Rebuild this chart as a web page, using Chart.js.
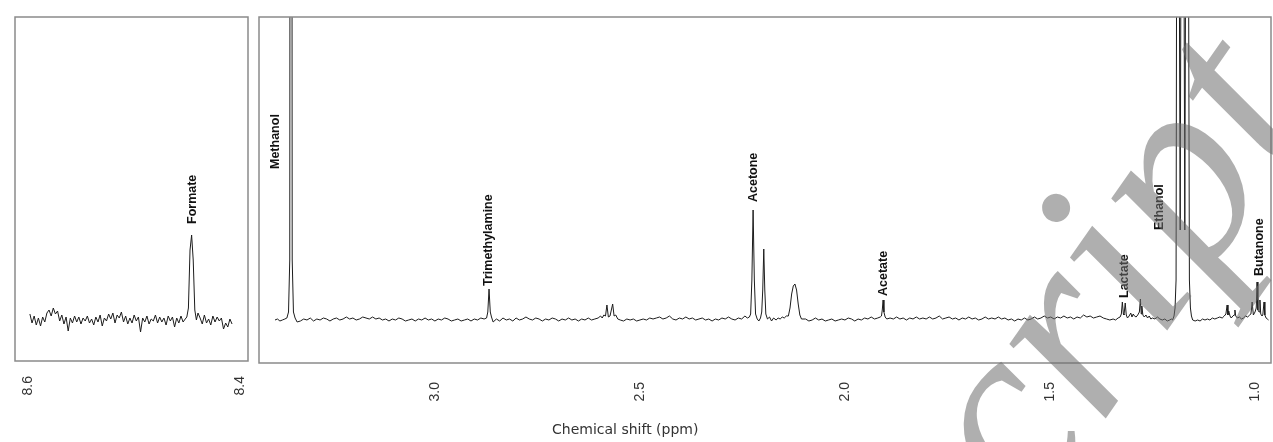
<!DOCTYPE html>
<html><head><meta charset="utf-8">
<script src="https://cdn.jsdelivr.net/npm/chart.js@4.4.1/dist/chart.umd.min.js"></script>
<style>
html,body{margin:0;padding:0;background:#fff;width:1273px;height:442px;overflow:hidden;}
#wrapL{position:absolute;left:0;top:0;width:252px;height:442px;}
#wrapM{position:absolute;left:252px;top:0;width:1021px;height:442px;}
#xtitle{position:absolute;left:552px;top:421px;font:14px 'DejaVu Sans';color:#333;white-space:nowrap;line-height:16px;}
</style></head><body>
<div id="wrapL"><canvas id="cL" width="252" height="442"></canvas></div>
<div id="wrapM"><canvas id="cM" width="1021" height="442"></canvas></div>
<div id="xtitle">Chemical shift (ppm)</div>
<script>
// ---- data (chemical shift in ppm, intensity in arbitrary units, baseline = 0) ----
const leftTicks = [8.4, 8.6];
const mainTicks = [1.0, 1.5, 2.0, 2.5, 3.0];
const axisTitle = 'Chemical shift (ppm)';

const formateSpectrum = [
[8.598,6],[8.596,-3],[8.594,4],[8.592,-5],[8.590,2],[8.588,-6],[8.586,3],[8.584,-2],[8.582,7],[8.580,10],
[8.578,4],[8.576,12],[8.574,6],[8.572,9],[8.570,-1],[8.568,5],[8.566,-4],[8.564,3],[8.562,-11],[8.560,2],
[8.558,-3],[8.556,4],[8.554,-2],[8.552,3],[8.550,-4],[8.548,2],[8.546,-1],[8.544,4],[8.542,-3],[8.540,1],
[8.538,-5],[8.536,3],[8.534,-2],[8.532,5],[8.530,-6],[8.528,2],[8.526,-1],[8.524,6],[8.522,1],[8.520,7],
[8.518,-3],[8.516,5],[8.514,2],[8.512,8],[8.510,-2],[8.508,4],[8.506,-4],[8.504,2],[8.502,-3],[8.500,5],
[8.498,-1],[8.496,3],[8.494,-12],[8.492,2],[8.490,-2],[8.488,4],[8.486,-4],[8.484,1],[8.482,-1],[8.480,5],
[8.478,-3],[8.476,3],[8.474,-2],[8.472,2],[8.470,-5],[8.468,4],[8.466,-1],[8.464,3],[8.462,-7],[8.460,2],
[8.458,-3],[8.456,4],[8.454,-2],[8.452,1],
[8.4505,3],[8.449,12],[8.4475,70],[8.446,85],[8.4445,60],[8.443,10],[8.4415,0],[8.440,7],
[8.438,2],[8.436,-4],[8.434,5],[8.432,-3],[8.430,1],[8.428,-5],[8.426,4],[8.424,-2],[8.422,3],[8.420,-1],
[8.418,2],[8.416,-9],[8.414,-3],[8.412,-7],[8.410,1],[8.408,-4]
];

const mainSpectrum = [
[3.390,0],[3.384,1],[3.378,-1],[3.372,0],[3.366,1],
[3.361,2],[3.357,8],[3.354,60],[3.351,2000],[3.348,60],[3.345,8],[3.341,2],[3.336,-2],
[3.328,-1],[3.320,1],[3.312,0],[3.304,2],[3.296,-1],[3.288,1],[3.280,0],[3.272,2],[3.264,1],[3.256,-1],
[3.248,1],[3.240,2],[3.232,0],[3.224,1],[3.216,3],[3.208,1],[3.200,2],[3.192,0],[3.184,1],[3.176,3],
[3.168,2],[3.160,1],[3.152,3],[3.144,1],[3.136,2],[3.128,0],[3.120,1],[3.112,-1],[3.104,1],[3.096,0],
[3.088,2],[3.080,1],[3.072,-1],[3.064,0],[3.056,1],[3.048,-1],[3.040,1],[3.032,0],[3.024,2],[3.016,0],
[3.008,1],[3.000,-1],[2.992,1],[2.984,0],[2.976,2],[2.968,1],[2.960,-1],[2.952,0],[2.944,1],[2.936,-1],
[2.928,0],[2.920,1],[2.912,-1],[2.904,1],[2.896,0],[2.888,2],[2.880,1],
[2.874,2],[2.871,8],[2.868,31],[2.865,8],[2.862,3],[2.858,-2],
[2.850,1],[2.842,-1],[2.834,2],[2.826,0],[2.818,1],[2.810,-1],[2.802,2],[2.794,0],[2.786,1],[2.778,3],
[2.770,1],[2.762,0],[2.754,2],[2.746,1],[2.738,-1],[2.730,1],[2.722,0],[2.714,2],[2.706,1],[2.698,-1],
[2.690,1],[2.682,0],[2.674,2],[2.666,0],[2.658,1],[2.650,-1],[2.642,1],[2.634,0],[2.626,2],[2.618,0],
[2.610,1],[2.602,2],[2.596,4],
[2.592,2],[2.588,5],[2.584,4],[2.5805,15],[2.577,3],[2.573,4],[2.5665,16],[2.563,4],[2.559,5],[2.554,1],
[2.548,0],[2.540,-1],[2.532,1],[2.524,0],[2.516,1],[2.508,-1],[2.500,0],[2.492,1],[2.484,0],[2.476,2],
[2.468,1],[2.460,2],[2.452,3],[2.444,1],[2.436,2],[2.428,4],[2.420,1],[2.412,0],[2.404,2],[2.396,1],
[2.388,3],[2.380,1],[2.372,2],[2.364,0],[2.356,1],[2.348,2],[2.340,0],[2.332,1],[2.324,-1],[2.316,1],
[2.308,0],[2.300,2],[2.292,1],[2.284,3],[2.276,1],[2.268,0],[2.260,2],[2.252,1],[2.244,4],[2.238,2],
[2.233,3],
[2.230,6],[2.227,40],[2.224,110],[2.221,40],[2.218,6],[2.214,1],[2.210,-1],[2.206,2],
[2.203,8],[2.2005,30],[2.198,71],[2.1955,30],[2.193,6],[2.189,1],[2.184,3],[2.179,-1],[2.174,2],
[2.168,0],[2.163,2],[2.158,1],[2.153,3],[2.148,2],[2.143,4],
[2.138,4],[2.134,12],[2.130,26],[2.126,34],[2.122,36],[2.118,30],[2.114,16],[2.110,5],[2.106,1],
[2.096,1],[2.088,-1],[2.080,0],[2.072,2],[2.064,0],[2.056,1],[2.048,-1],[2.040,0],[2.032,1],[2.024,-1],
[2.016,0],[2.008,1],[2.000,0],[1.992,2],[1.984,1],[1.976,-1],[1.968,1],[1.960,0],[1.952,2],[1.944,1],
[1.936,3],[1.928,1],[1.920,2],[1.914,3],
[1.911,4],[1.909,10],[1.907,20],[1.905,8],[1.902,3],[1.898,1],
[1.890,2],[1.882,1],[1.874,3],[1.866,1],[1.858,2],[1.850,0],[1.842,2],[1.834,1],[1.826,3],[1.818,1],
[1.810,2],[1.802,1],[1.794,3],[1.786,1],[1.778,2],[1.770,4],[1.762,1],[1.754,2],[1.746,3],[1.738,1],
[1.730,2],[1.722,0],[1.714,2],[1.706,1],[1.698,3],[1.690,1],[1.682,2],[1.674,0],[1.666,1],[1.658,3],
[1.650,1],[1.642,2],[1.634,1],[1.626,3],[1.618,1],[1.610,2],[1.602,0],[1.594,1],[1.586,-1],[1.578,1],
[1.570,0],[1.562,2],[1.554,0],[1.546,1],[1.538,3],[1.530,1],[1.522,2],[1.514,4],[1.506,2],[1.498,3],
[1.490,1],[1.482,3],[1.474,2],[1.466,4],[1.458,2],[1.450,3],[1.442,1],[1.434,3],[1.426,2],[1.418,5],
[1.410,3],[1.402,4],[1.394,2],[1.386,3],[1.378,4],[1.370,2],[1.362,1],[1.354,0],[1.346,1],[1.340,0],
[1.334,2],
[1.329,3],[1.326,6],[1.3235,18],[1.321,6],[1.3195,5],[1.3165,17],[1.314,5],[1.311,2],[1.307,4],[1.303,7],
[1.300,3],[1.297,6],[1.294,4],[1.290,3],[1.286,5],[1.282,8],[1.2795,21],[1.2775,6],[1.276,14],[1.2735,5],
[1.270,3],[1.266,5],[1.262,2],[1.258,4],[1.254,1],
[1.250,2],[1.244,1],[1.238,3],[1.232,1],[1.226,0],[1.220,1],[1.214,-1],[1.208,0],[1.204,1],
[1.2010,0],[1.1975,4],[1.1950,12],[1.1925,40],[1.1890,900],[1.1825,90],[1.1770,900],[1.1712,90],
[1.1655,900],[1.1600,40],[1.1575,12],[1.1550,4],[1.1520,0],
[1.146,-1],[1.140,0],[1.134,-1],[1.128,1],[1.122,0],[1.116,1],[1.110,0],[1.104,2],[1.098,1],[1.092,2],
[1.086,3],[1.080,2],[1.075,4],
[1.071,6],[1.068,15],[1.066,5],[1.064,9],[1.061,4],[1.058,2],[1.054,4],[1.051,5],[1.049,10],[1.047,4],
[1.043,2],[1.038,3],[1.033,1],[1.028,2],[1.023,4],[1.018,3],[1.013,5],[1.010,6],[1.007,18],[1.004,5],
[1.000,8],[0.997,12],[0.995,38],[0.993,10],[0.990,8],[0.988,20],[0.986,6],[0.983,4],[0.981,5],[0.978,18],
[0.976,5],[0.973,2],[0.970,1],[0.967,0]
];

// peak annotations: name, shift where label sits, intensity level of label start
const leftPeakNames = ['Formate'];
const leftPeakShift = [8.445];
const leftPeakLevel = [96];
const mainPeakNames = ['Methanol','Trimethylamine','Acetone','Acetate','Lactate','Ethanol','Butanone'];
const mainPeakShift = [3.388, 2.868, 2.222, 1.907, 1.317, 1.232, 0.990];
const mainPeakLevel = [151, 34, 118, 24, 22, 90, 44];

const watermarkText = 'Author Manuscript';

// ---- rendering ----
const boxPlugin = {
  id: 'box',
  afterDraw(chart) {
    const a = chart.chartArea, ctx = chart.ctx;
    ctx.save();
    ctx.strokeStyle = '#8a8a8a';
    ctx.lineWidth = 1.5;
    ctx.strokeRect(a.left, a.top, a.right - a.left, a.bottom - a.top);
    ctx.restore();
  }
};
function labelPlugin(names, shifts, levels) {
  return {
    id: 'peakLabels',
    afterDatasetsDraw(chart) {
      const ctx = chart.ctx, xs = chart.scales.x, ys = chart.scales.y;
      ctx.save();
      ctx.fillStyle = '#111';
      ctx.font = "bold 12.5px 'Liberation Sans', Arial";
      ctx.textAlign = 'left';
      ctx.textBaseline = 'middle';
      names.forEach((n, i) => {
        const x = xs.getPixelForValue(shifts[i]);
        const y = ys.getPixelForValue(levels[i]);
        ctx.save();
        ctx.translate(x, y);
        ctx.rotate(-Math.PI / 2);
        ctx.fillText(n, 0, 0);
        ctx.restore();
      });
      ctx.restore();
    }
  };
}
const watermarkPlugin = {
  id: 'watermark',
  afterDraw(chart) {
    const ctx = chart.ctx;
    ctx.save();
    ctx.font = "italic 265px 'Liberation Serif'";
    ctx.fillStyle = 'rgba(110,110,110,0.55)';
    ctx.textBaseline = 'alphabetic';
    const pre = ctx.measureText('Author Manu').width;
    ctx.translate(721, 608);
    ctx.rotate(-55 * Math.PI / 180);
    ctx.fillText(watermarkText, -pre, 0);
    ctx.restore();
  }
};

function makeChart(id, pts, ticks, xmin, xmax, ymin, ymax, pad, tickPad, axisH, plugins) {
  return new Chart(document.getElementById(id), {
    type: 'line',
    data: { datasets: [{
      data: pts.map(p => ({ x: p[0], y: p[1] })),
      borderColor: '#1c1c1c', borderWidth: 1, pointRadius: 0, tension: 0, fill: false
    }] },
    options: {
      responsive: false, animation: false, devicePixelRatio: 1,
      layout: { padding: pad },
      plugins: { legend: { display: false }, tooltip: { enabled: false } },
      scales: {
        x: {
          type: 'linear', reverse: true, min: xmin, max: xmax,
          grid: { display: false, drawTicks: false }, border: { display: false },
          afterBuildTicks: s => { s.ticks = ticks.map(v => ({ value: v })); },
          afterFit: s => { s.height = axisH; s.paddingLeft = 0; s.paddingRight = 0; },
          ticks: {
            autoSkip: false, minRotation: 90, maxRotation: 90, padding: tickPad,
            color: '#333', font: { family: "'Liberation Sans', Arial", size: 14 },
            callback: v => Number(v).toFixed(1)
          }
        },
        y: { display: false, min: ymin, max: ymax }
      }
    },
    plugins: plugins
  });
}

makeChart('cL', formateSpectrum, leftTicks, 8.393, 8.612, -41, 303,
  { left: 15, right: 4, top: 17, bottom: 0 }, 15, 81,
  [boxPlugin, labelPlugin(leftPeakNames, leftPeakShift, leftPeakLevel)]);
makeChart('cM', mainSpectrum, mainTicks, 0.961, 3.429, -43, 303,
  { left: 7, right: 2, top: 17, bottom: 0 }, 19, 79,
  [boxPlugin, labelPlugin(mainPeakNames, mainPeakShift, mainPeakLevel), watermarkPlugin]);
document.getElementById('xtitle').textContent = axisTitle;
</script>
</body></html>
